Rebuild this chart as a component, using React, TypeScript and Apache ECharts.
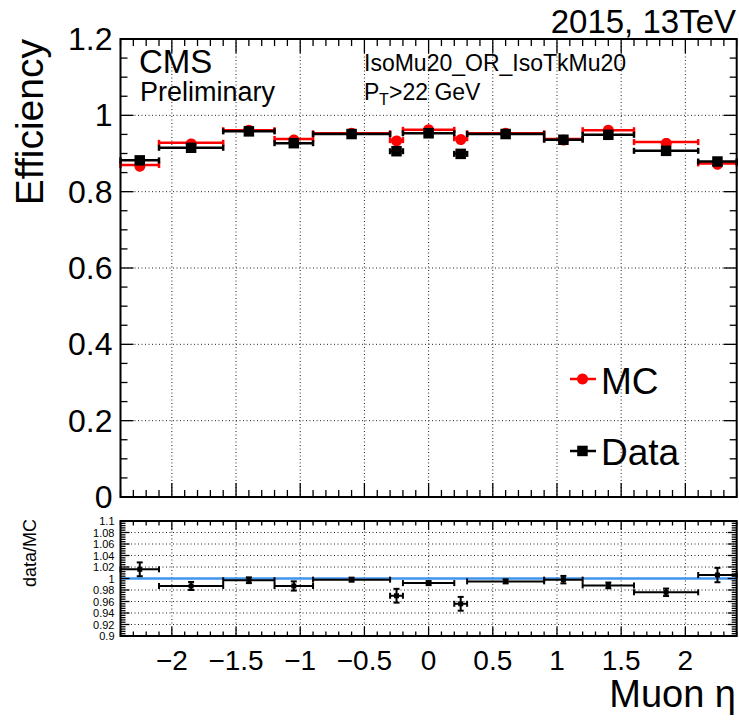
import React, { useEffect, useRef } from "react";
import * as echarts from "echarts";

// ---- data ----
const binEdges = [-2.4, -2.1, -1.6, -1.2, -0.9, -0.3, -0.2, 0.2, 0.3, 0.9, 1.2, 1.6, 2.1, 2.4];
const mcEfficiency = [0.87, 0.928, 0.961, 0.938, 0.953, 0.935, 0.962, 0.94, 0.953, 0.938, 0.961, 0.93, 0.874];
const dataEfficiency = [0.882, 0.915, 0.958, 0.927, 0.951, 0.906, 0.953, 0.899, 0.951, 0.936, 0.949, 0.907, 0.879];
const ratioValues = [1.016, 0.987, 0.997, 0.987, 0.998, 0.97, 0.992, 0.956, 0.995, 0.998, 0.988, 0.976, 1.006];
const ratioErrors = [0.012, 0.007, 0.005, 0.008, 0.0035, 0.012, 0.0035, 0.012, 0.0035, 0.0065, 0.005, 0.0065, 0.0125];
const etaMajorTicks = [-2, -1.5, -1, -0.5, 0, 0.5, 1, 1.5, 2];
const effGridValues = [0.2, 0.4, 0.6, 0.8, 1.0];
const ratioGridValues = [0.92, 0.94, 0.96, 0.98, 1.02, 1.04, 1.06, 1.08];
const etaRange = [-2.4, 2.4];
const effRange = [0, 1.2];
const ratioRange = [0.9, 1.1];

const FONT = '"Liberation Sans", Arial, Helvetica, sans-serif';
const RED = "#ff0000";
const BLUE = "#3f94ee";

const line = (x1: number, y1: number, x2: number, y2: number, style: any) => ({
  type: "line",
  shape: { x1, y1, x2, y2 },
  style,
});

function gridRenderer(cfg: { yRange: number[]; yGrid: number[]; refLine?: number }) {
  return (params: any, api: any) => {
    const P = (x: number, y: number) => api.coord([x, y]);
    const bl = P(etaRange[0], cfg.yRange[0]);
    const tr = P(etaRange[1], cfg.yRange[1]);
    const L = bl[0], B = bl[1], R = tr[0], T = tr[1];
    const dot = { stroke: "#222", lineWidth: 1, lineDash: [1, 2.5] };
    const ch: any[] = [];
    for (const v of etaMajorTicks) {
      const x = P(v, cfg.yRange[0])[0];
      ch.push(line(x, T, x, B, dot));
    }
    for (const v of cfg.yGrid) {
      const y = P(etaRange[0], v)[1];
      ch.push(line(L, y, R, y, dot));
    }
    if (cfg.refLine !== undefined) {
      const y = P(etaRange[0], cfg.refLine)[1];
      ch.push(line(L, y, R, y, { stroke: BLUE, lineWidth: 2.5 }));
    }
    return { type: "group", children: ch };
  };
}

function frameRenderer(cfg: {
  yRange: number[];
  yMinorStep: number;
  yMajorEvery: number;
  xMaj: number;
  xMin: number;
  yMaj: number;
  yMin: number;
}) {
  return (params: any, api: any) => {
    const P = (x: number, y: number) => api.coord([x, y]);
    const bl = P(etaRange[0], cfg.yRange[0]);
    const tr = P(etaRange[1], cfg.yRange[1]);
    const L = bl[0], B = bl[1], R = tr[0], T = tr[1];
    const st = { stroke: "#000", lineWidth: 1.3 };
    const ch: any[] = [];
    const nx = Math.round((etaRange[1] - etaRange[0]) / 0.1);
    for (let k = 0; k <= nx; k++) {
      const v = etaRange[0] + k * 0.1;
      const major = Math.abs(v * 2 - Math.round(v * 2)) < 1e-6;
      const len = major ? cfg.xMaj : cfg.xMin;
      const x = P(v, cfg.yRange[0])[0];
      ch.push(line(x, B, x, B - len, st));
      ch.push(line(x, T, x, T + len, st));
    }
    const ny = Math.round((cfg.yRange[1] - cfg.yRange[0]) / cfg.yMinorStep);
    for (let k = 0; k <= ny; k++) {
      const v = cfg.yRange[0] + k * cfg.yMinorStep;
      const len = k % cfg.yMajorEvery === 0 ? cfg.yMaj : cfg.yMin;
      const y = P(etaRange[0], v)[1];
      ch.push(line(L, y, L + len, y, st));
      ch.push(line(R, y, R - len, y, st));
    }
    ch.push({
      type: "rect",
      shape: { x: L, y: T, width: R - L, height: B - T },
      style: { fill: "none", stroke: "#000", lineWidth: 2 },
    });
    return { type: "group", children: ch };
  };
}

function binRenderer(color: string, marker: "circle" | "square") {
  return (params: any, api: any) => {
    const lo = api.value(0), hi = api.value(1), v = api.value(2);
    const a = api.coord([lo, v]);
    const b = api.coord([hi, v]);
    const m = api.coord([(lo + hi) / 2, v]);
    const st = { stroke: color, lineWidth: 2.5 };
    const cap = 3;
    const ch: any[] = [
      line(a[0], a[1], b[0], b[1], st),
      line(a[0], a[1] - cap, a[0], a[1] + cap, st),
      line(b[0], b[1] - cap, b[0], b[1] + cap, st),
    ];
    if (marker === "circle") {
      ch.push({ type: "circle", shape: { cx: m[0], cy: m[1], r: 5.5 }, style: { fill: color } });
    } else {
      const s = 10.5;
      ch.push({ type: "rect", shape: { x: m[0] - s / 2, y: m[1] - s / 2, width: s, height: s }, style: { fill: color } });
    }
    return { type: "group", children: ch };
  };
}

function ratioRenderer(params: any, api: any) {
  const lo = api.value(0), hi = api.value(1), v = api.value(2), e = api.value(3);
  const mid = (lo + hi) / 2;
  const a = api.coord([lo, v]);
  const b = api.coord([hi, v]);
  const m = api.coord([mid, v]);
  const up = api.coord([mid, v + e]);
  const dn = api.coord([mid, v - e]);
  const st = { stroke: "#000", lineWidth: 2 };
  const cap = 3;
  const s = 5;
  return {
    type: "group",
    children: [
      line(a[0], a[1], b[0], b[1], st),
      line(a[0], a[1] - cap, a[0], a[1] + cap, st),
      line(b[0], b[1] - cap, b[0], b[1] + cap, st),
      line(up[0], up[1], dn[0], dn[1], st),
      line(up[0] - cap, up[1], up[0] + cap, up[1], st),
      line(dn[0] - cap, dn[1], dn[0] + cap, dn[1], st),
      { type: "rect", shape: { x: m[0] - s / 2, y: m[1] - s / 2, width: s, height: s }, style: { fill: "#000" } },
    ],
  };
}

const txt = (text: string, x: number, y: number, fontSize: number, extra: any = {}) => ({
  type: "text",
  x,
  y,
  silent: true,
  style: {
    text,
    fontSize,
    lineHeight: Math.round(fontSize * 0.92),
    fontFamily: FONT,
    fill: "#000",
    align: "left",
    verticalAlign: "middle",
    ...extra,
  },
});

export default function App() {
  const ref = useRef<HTMLDivElement>(null);

  useEffect(() => {
    const chart = echarts.init(ref.current!, null, { renderer: "svg" });

    const mcData = mcEfficiency.map((v, i) => [binEdges[i], binEdges[i + 1], v]);
    const dData = dataEfficiency.map((v, i) => [binEdges[i], binEdges[i + 1], v]);
    const rData = ratioValues.map((v, i) => [binEdges[i], binEdges[i + 1], v, ratioErrors[i]]);

    const etaFormatter = (v: number) => {
      const r = Math.round(v * 2);
      if (Math.abs(v * 2 - r) > 1e-6 || Math.abs(v) > 2.05) return "";
      const a = Math.abs(r / 2);
      return (r < 0 ? "\u2212" : "") + String(a);
    };

    const option: any = {
      animation: false,
      backgroundColor: "#fff",
      grid: [
        { left: 120.5, top: 39, width: 616.2, height: 458, containLabel: false, outerBoundsMode: "none" },
        { left: 120.5, top: 521, width: 616.2, height: 115, containLabel: false, outerBoundsMode: "none" },
      ],
      xAxis: [
        {
          type: "value",
          gridIndex: 0,
          min: etaRange[0],
          max: etaRange[1],
          interval: 0.1,
          axisLine: { show: false },
          axisTick: { show: false },
          axisLabel: { show: false },
          splitLine: { show: false },
        },
        {
          type: "value",
          gridIndex: 1,
          min: etaRange[0],
          max: etaRange[1],
          interval: 0.1,
          axisLine: { show: false },
          axisTick: { show: false },
          splitLine: { show: false },
          axisLabel: {
            show: true,
            fontSize: 28,
            fontFamily: FONT,
            color: "#000",
            margin: 10,
            formatter: etaFormatter,
            showMinLabel: true,
            showMaxLabel: true,
          },
        },
      ],
      yAxis: [
        {
          type: "value",
          gridIndex: 0,
          min: effRange[0],
          max: effRange[1],
          interval: 0.2,
          axisLine: { show: false },
          axisTick: { show: false },
          splitLine: { show: false },
          axisLabel: {
            fontSize: 32,
            fontFamily: FONT,
            color: "#000",
            margin: 8,
            padding: [5, 0, 0, 0],
            showMinLabel: true,
            showMaxLabel: true,
          },
        },
        {
          type: "value",
          gridIndex: 1,
          min: ratioRange[0],
          max: ratioRange[1],
          interval: 0.02,
          axisLine: { show: false },
          axisTick: { show: false },
          splitLine: { show: false },
          axisLabel: {
            fontSize: 11,
            lineHeight: 10,
            fontFamily: FONT,
            color: "#000",
            margin: 6,
            showMinLabel: true,
            showMaxLabel: true,
            hideOverlap: false,
          },
        },
      ],
      series: [
        {
          type: "custom",
          name: "grid-top",
          xAxisIndex: 0,
          yAxisIndex: 0,
          silent: true,
          data: [[0, 0.5]],
          renderItem: gridRenderer({ yRange: effRange, yGrid: effGridValues }),
        },
        {
          type: "custom",
          name: "grid-ratio",
          xAxisIndex: 1,
          yAxisIndex: 1,
          silent: true,
          data: [[0, 1]],
          renderItem: gridRenderer({ yRange: ratioRange, yGrid: ratioGridValues, refLine: 1 }),
        },
        {
          type: "custom",
          name: "MC",
          xAxisIndex: 0,
          yAxisIndex: 0,
          data: mcData,
          encode: { x: [0, 1], y: 2 },
          renderItem: binRenderer(RED, "circle"),
        },
        {
          type: "custom",
          name: "Data",
          xAxisIndex: 0,
          yAxisIndex: 0,
          data: dData,
          encode: { x: [0, 1], y: 2 },
          renderItem: binRenderer("#000", "square"),
        },
        {
          type: "custom",
          name: "data/MC",
          xAxisIndex: 1,
          yAxisIndex: 1,
          data: rData,
          encode: { x: [0, 1], y: 2 },
          renderItem: ratioRenderer,
        },
        {
          type: "custom",
          name: "frame-top",
          xAxisIndex: 0,
          yAxisIndex: 0,
          silent: true,
          data: [[0, 0.5]],
          renderItem: frameRenderer({
            yRange: effRange,
            yMinorStep: 0.05,
            yMajorEvery: 4,
            xMaj: 14,
            xMin: 7,
            yMaj: 13,
            yMin: 7,
          }),
        },
        {
          type: "custom",
          name: "frame-ratio",
          xAxisIndex: 1,
          yAxisIndex: 1,
          silent: true,
          data: [[0, 1]],
          renderItem: frameRenderer({
            yRange: ratioRange,
            yMinorStep: 0.004,
            yMajorEvery: 5,
            xMaj: 9,
            xMin: 4.5,
            yMaj: 9,
            yMin: 5,
          }),
        },
      ],
      graphic: [
        txt("2015, 13TeV", 736, 21, 33, { align: "right" }),
        txt("CMS", 139, 61, 33),
        txt("Preliminary", 140, 92, 27),
        txt("IsoMu20_OR_IsoTkMu20", 364, 63, 23),
        txt("P", 364, 92, 23),
        txt("T", 379, 99, 16),
        txt(">22 GeV", 389, 92, 23),
        {
          type: "text",
          x: 29,
          y: 39,
          rotation: Math.PI / 2,
          silent: true,
          style: { text: "Efficiency", fontSize: 39, fontFamily: FONT, fill: "#000", align: "right", verticalAlign: "middle" },
        },
        {
          type: "text",
          x: 30,
          y: 519,
          rotation: Math.PI / 2,
          silent: true,
          style: { text: "data/MC", fontSize: 18, fontFamily: FONT, fill: "#000", align: "right", verticalAlign: "middle" },
        },
        txt("Muon \u03b7", 736, 694, 38, { align: "right" }),
        // legend
        { type: "line", silent: true, shape: { x1: 570, y1: 379, x2: 596, y2: 379 }, style: { stroke: RED, lineWidth: 2.5 } },
        { type: "circle", silent: true, shape: { cx: 582.5, cy: 379, r: 5.5 }, style: { fill: RED } },
        txt("MC", 601, 381, 37),
        { type: "line", silent: true, shape: { x1: 570, y1: 451, x2: 596, y2: 451 }, style: { stroke: "#000", lineWidth: 2.5 } },
        { type: "rect", silent: true, shape: { x: 577.2, y: 445.7, width: 10.5, height: 10.5 }, style: { fill: "#000" } },
        txt("Data", 601, 452.5, 37),
      ],
    };

    chart.setOption(option);
    return () => chart.dispose();
  }, []);

  return (
    <div
      ref={ref}
      style={{ position: "fixed", left: 0, top: 0, width: 739, height: 720, background: "#fff" }}
    />
  );
}
